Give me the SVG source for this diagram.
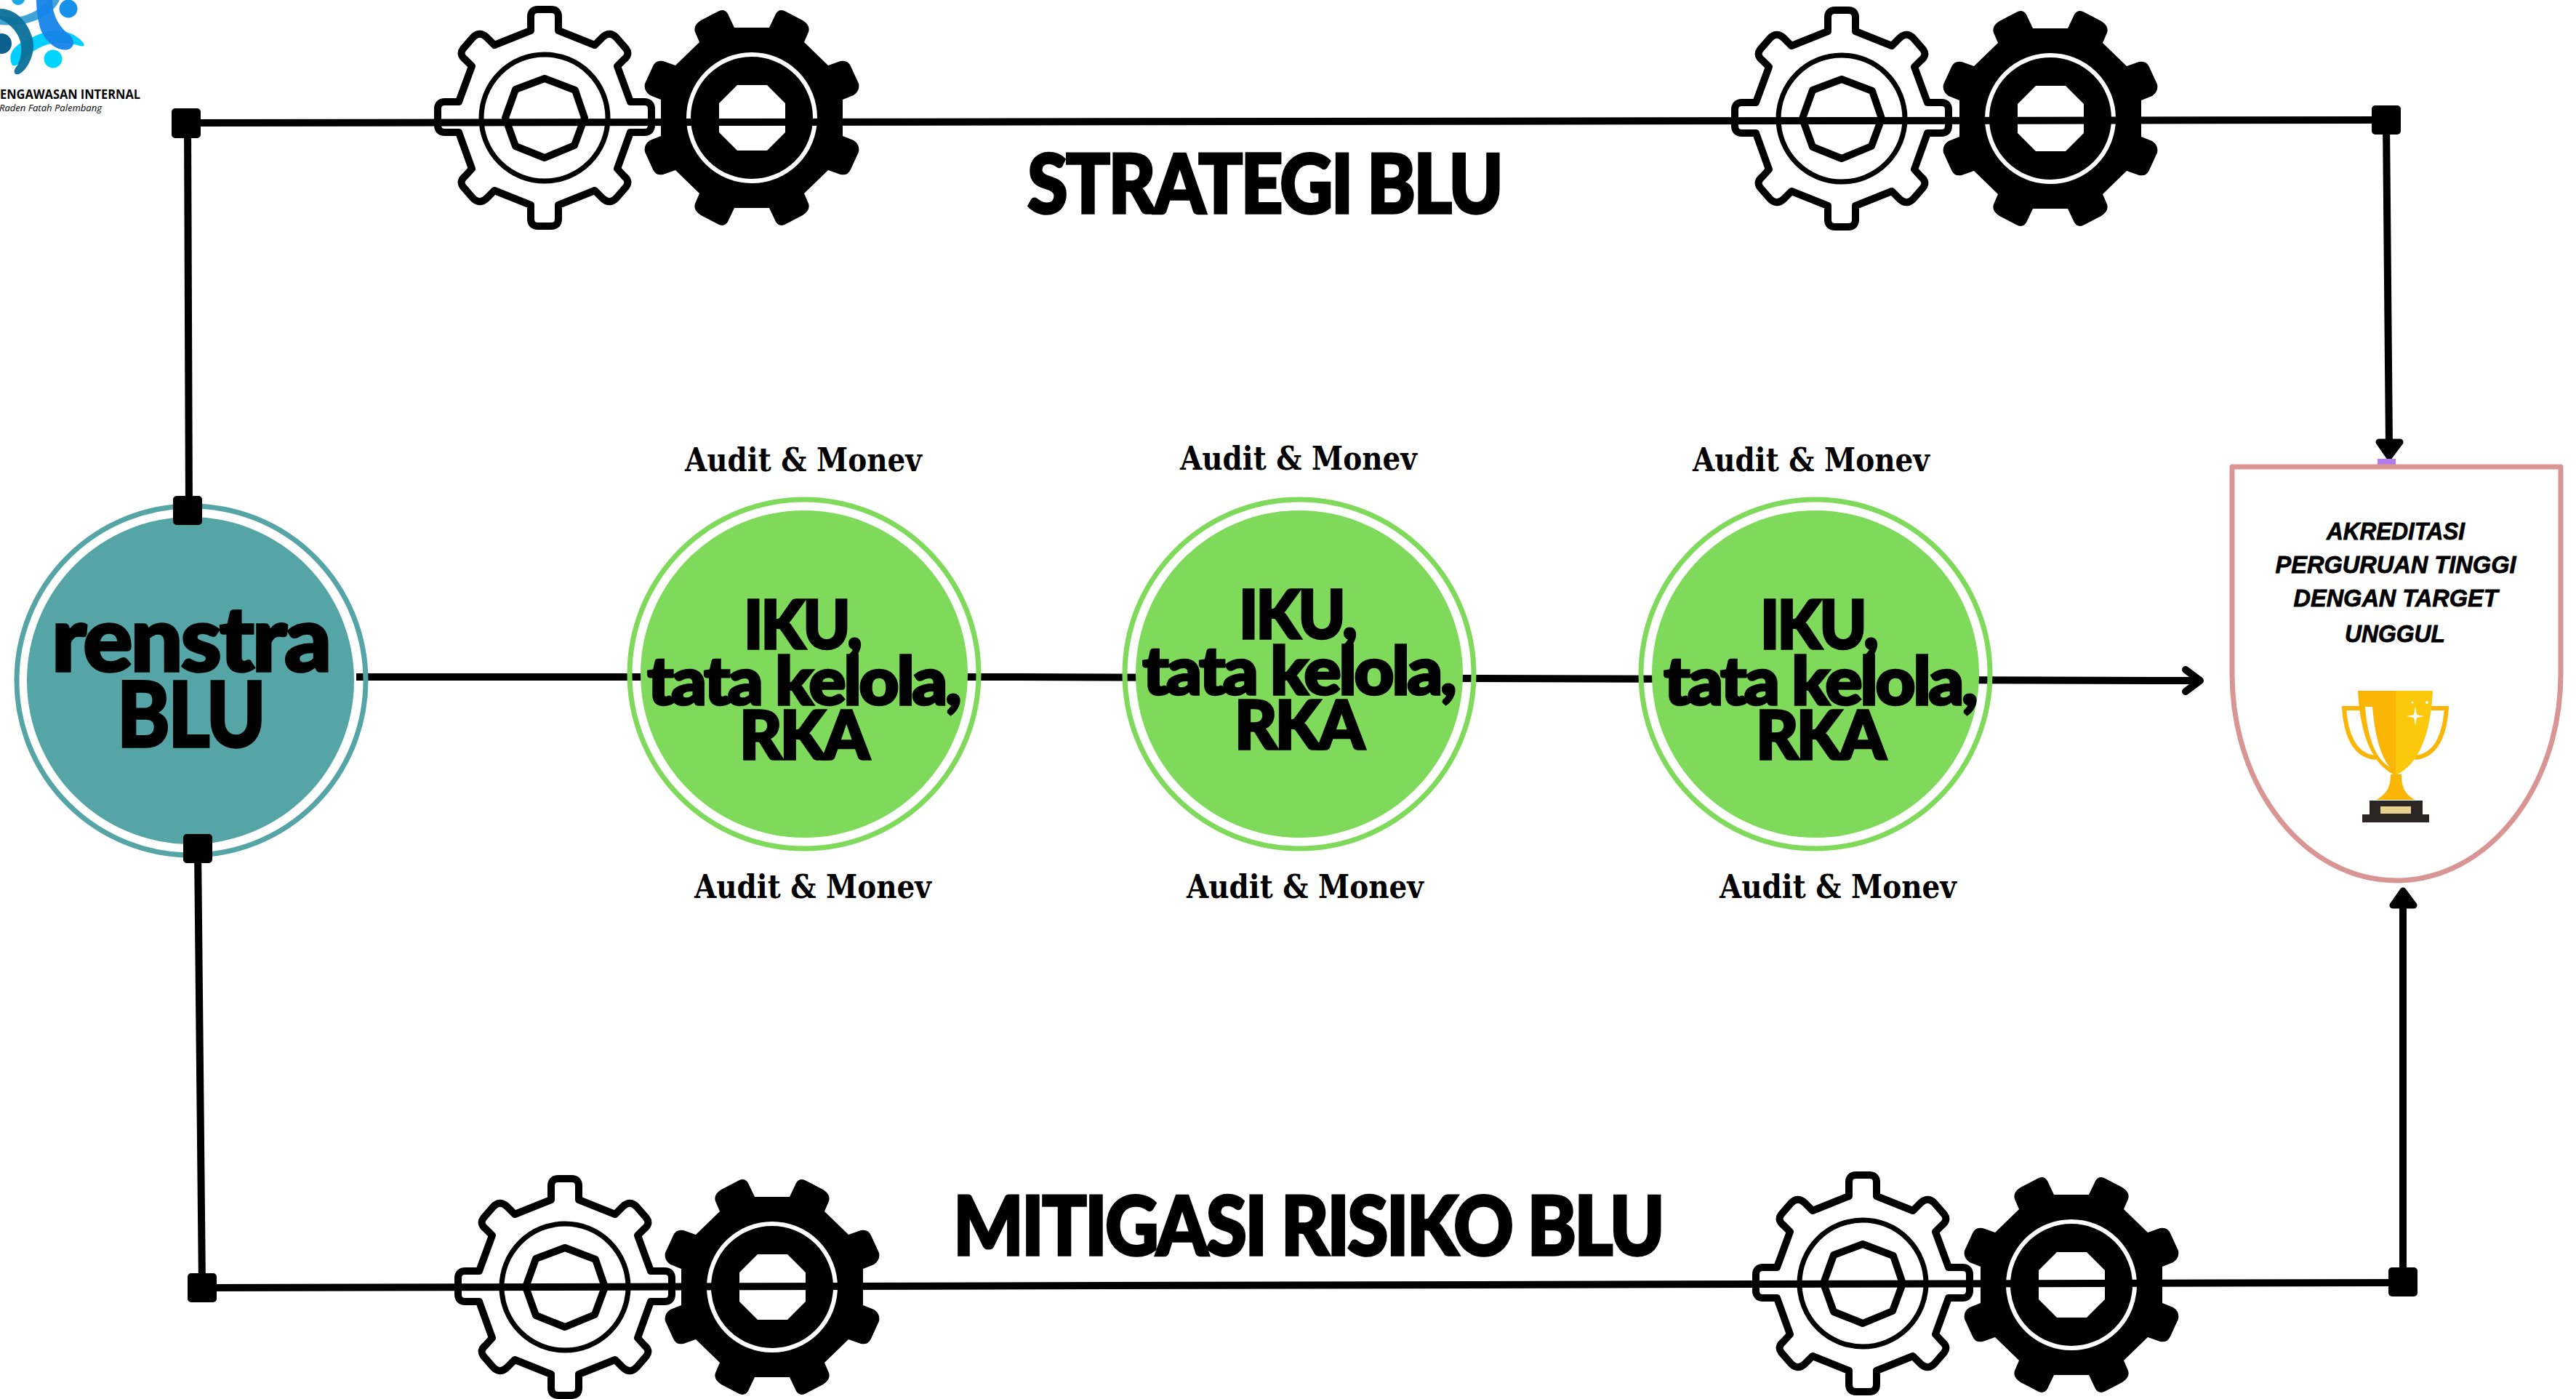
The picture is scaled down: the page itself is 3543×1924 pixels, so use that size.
<svg xmlns="http://www.w3.org/2000/svg" width="3543" height="1924" viewBox="0 0 3543 1924">
<style>
.line{fill:none;stroke:#000;stroke-width:10}
.heavy{font-family:Lato,"Liberation Sans",sans-serif;font-weight:900;fill:#000;stroke:#000;stroke-width:3.5;text-anchor:middle;letter-spacing:-3px}
.audit{font-family:"DejaVu Serif",serif;font-weight:700;font-size:44px;fill:#000}
.goal{font-family:"Liberation Sans",sans-serif;font-weight:700;font-style:italic;font-size:33px;fill:#000;stroke:#000;stroke-width:.8;text-anchor:middle}
</style>
<defs>
<g id="gearW" fill="none" stroke="#000">
<path stroke-width="10" stroke-linejoin="round" d="M-19-120V-139Q-19-149-9-149H9Q19-149 19-139V-120L69-100 80-111Q90-120 99-110L112-95Q118-87 109-80L100-71 118-22H137Q147-22 147-12V10Q147 20 137 20H118L100 70 109 80Q118 87 112 95L99 110Q90 120 80 111L69 100 19 120V139Q19 149 9 149H-9Q-19 149-19 139V120L-69 100-80 111Q-90 120-99 110L-112 95Q-118 87-109 80L-100 70-118 20H-137Q-147 20-147 10V-12Q-147-22-137-22H-118L-100-71-109-80Q-118-87-112-95L-99-110Q-90-120-80-111L-69-100Z"/>
<circle r="87" stroke-width="7"/>
<path stroke-width="10" stroke-linejoin="round" d="M0-54 42-38 55 0 41 38 0 55-40 39-54 0-40-39Z"/>
</g>
<g id="gearB">
<path fill="#000" fill-rule="evenodd" d="M-24-124H24L33-143Q38-151 47-146L70-134Q81-127 78-118L72-104 105-72 122-78Q132-80 136-71L147-47Q149-37 140-31L125-25V25L140 31Q149 37 147 47L136 71Q132 80 122 78L105 72 72 104 78 118Q81 127 70 134L47 146Q38 151 33 143L24 124H-24L-33 143Q-38 151-47 146L-70 134Q-81 127-78 118L-72 104-105 72-122 78Q-132 80-136 71L-147 47Q-149 37-140 31L-125 25V-25L-140-31Q-149-37-147-47L-136-71Q-132-80-122-78L-105-72-72-104-78-118Q-81-127-70-134L-47-146Q-38-151-33-143L-24-124ZM-20-45H21L46-20V20L21 45H-20L-45 20V-20Z"/>
<circle r="87" fill="none" stroke="#fff" stroke-width="6"/>
</g>
</defs>
<rect width="3543" height="1924" fill="#fff"/>

<g id="logo">
<circle cx="94" cy="12" r="12.5" fill="#1591ea"/>
<circle cx="73" cy="81" r="12.5" fill="#00d4ff"/>
<circle cx="2" cy="60" r="14" fill="#0a5f8f"/>
<circle cx="25" cy="-2" r="9" fill="#18a8e8"/>
<path fill="#00cfff" d="M16 88C10 72 22 60 40 54 66 38 94 38 112 56 118 62 116 65 110 63 90 58 70 56 50 68 36 76 30 86 24 89 20 91 17 91 16 88Z"/>
<path fill="#3fa3d8" d="M0 22C24 28 50 20 66 0H82C72 22 40 38 0 34Z"/>
<path fill="#0b6f98" fill-opacity=".95" d="M0 12C30 12 45 45 46 60 47 80 35 98 26 102 18 104 18 96 24 90 34 70 32 42 0 26Z"/>
<path fill="#1583e8" fill-opacity=".95" d="M50 0H72C72 22 82 38 96 48 102 54 104 64 94 68 78 72 58 54 54 34 51 22 50 10 50 0Z"/>
<text x="0" y="136" font-family="'Open Sans',sans-serif" font-weight="700" font-size="17.5" textLength="193" lengthAdjust="spacingAndGlyphs">ENGAWASAN INTERNAL</text>
<text x="-1" y="153" font-family="'Open Sans',sans-serif" font-style="italic" font-size="13.5" textLength="141" lengthAdjust="spacingAndGlyphs">Raden Fatah Palembang</text>
</g>

<g id="gears">
<use href="#gearW" x="749" y="162"/><use href="#gearB" x="1034" y="162"/>
<use href="#gearW" x="2533" y="163"/><use href="#gearB" x="2820" y="163"/>
<use href="#gearW" x="777" y="1770"/><use href="#gearB" x="1062" y="1770"/>
<use href="#gearW" x="2562" y="1765"/><use href="#gearB" x="2849" y="1767"/>
</g>

<g id="connectors">
<path class="line" d="M256 169 3282 165"/>
<path class="line" d="M258 169 260 702"/>
<path class="line" d="M3282 165 3286 612"/>
<path class="line" d="M272 1167 278 1771"/>
<path class="line" d="M278 1771 3305 1764"/>
<path class="line" d="M3305 1764V1240"/>
<path class="line" d="M490 931 1400 931 2960 936 3024 936"/>
<path class="line" stroke-width="12" stroke-linecap="round" stroke-linejoin="round" d="M3006 921 3026 936 3006 951"/>
<path fill="#000" stroke="#000" stroke-width="9" stroke-linejoin="round" d="M3272 608H3301L3286 628Z"/>
<path fill="#000" stroke="#000" stroke-width="9" stroke-linejoin="round" d="M3291 1245H3320L3305 1225Z"/>
</g>

<g id="node-renstra">
<circle cx="263" cy="936" r="240" fill="none" stroke="#55a4a6" stroke-width="7"/>
<circle cx="262" cy="936" r="225" fill="#55a4a6"/>
<text class="heavy" x="262" y="923" font-size="124" textLength="382" lengthAdjust="spacingAndGlyphs">renstra</text>
<text class="heavy" x="262" y="1027" font-size="124" textLength="202" lengthAdjust="spacingAndGlyphs">BLU</text>
</g>

<g id="node-iku-1">
<circle cx="1106" cy="927" r="240" fill="none" stroke="#7fda5b" stroke-width="7"/>
<circle cx="1106" cy="927" r="225" fill="#7fda5b"/>
<text class="heavy" x="1103" y="892" font-size="92" textLength="160" lengthAdjust="spacingAndGlyphs">IKU,</text>
<text class="heavy" x="1105" y="969" font-size="92" textLength="429" lengthAdjust="spacingAndGlyphs">tata kelola,</text>
<text class="heavy" x="1105" y="1044" font-size="92" textLength="176" lengthAdjust="spacingAndGlyphs">RKA</text>
</g>
<g id="node-iku-2">
<circle cx="1787" cy="927" r="240" fill="none" stroke="#7fda5b" stroke-width="7"/>
<circle cx="1787" cy="927" r="225" fill="#7fda5b"/>
<text class="heavy" x="1784" y="878" font-size="92" textLength="160" lengthAdjust="spacingAndGlyphs">IKU,</text>
<text class="heavy" x="1786" y="955" font-size="92" textLength="429" lengthAdjust="spacingAndGlyphs">tata kelola,</text>
<text class="heavy" x="1786" y="1030" font-size="92" textLength="176" lengthAdjust="spacingAndGlyphs">RKA</text>
</g>
<g id="node-iku-3">
<circle cx="2497" cy="927" r="240" fill="none" stroke="#7fda5b" stroke-width="7"/>
<circle cx="2497" cy="927" r="225" fill="#7fda5b"/>
<text class="heavy" x="2501" y="892" font-size="92" textLength="160" lengthAdjust="spacingAndGlyphs">IKU,</text>
<text class="heavy" x="2503" y="969" font-size="92" textLength="429" lengthAdjust="spacingAndGlyphs">tata kelola,</text>
<text class="heavy" x="2503" y="1044" font-size="92" textLength="176" lengthAdjust="spacingAndGlyphs">RKA</text>
</g>

<g id="junctions" fill="#000">
<rect x="236" y="149" width="40" height="41" rx="5"/>
<rect x="3262" y="145" width="40" height="40" rx="5"/>
<rect x="238" y="682" width="40" height="40" rx="5"/>
<rect x="252" y="1147" width="40" height="40" rx="5"/>
<rect x="258" y="1751" width="40" height="40" rx="5"/>
<rect x="3285" y="1743" width="40" height="40" rx="5"/>
</g>

<g id="labels">
<text class="heavy" x="1739" y="293" font-size="112" textLength="652" lengthAdjust="spacingAndGlyphs">STRATEGI BLU</text>
<text class="heavy" x="1799" y="1726" font-size="112" textLength="976" lengthAdjust="spacingAndGlyphs">MITIGASI RISIKO BLU</text>
<text class="audit" x="942" y="648" textLength="326" lengthAdjust="spacingAndGlyphs">Audit &amp; Monev</text>
<text class="audit" x="1623" y="646" textLength="326" lengthAdjust="spacingAndGlyphs">Audit &amp; Monev</text>
<text class="audit" x="2328" y="648" textLength="326" lengthAdjust="spacingAndGlyphs">Audit &amp; Monev</text>
<text class="audit" x="955" y="1235" textLength="326" lengthAdjust="spacingAndGlyphs">Audit &amp; Monev</text>
<text class="audit" x="1632" y="1235" textLength="326" lengthAdjust="spacingAndGlyphs">Audit &amp; Monev</text>
<text class="audit" x="2365" y="1235" textLength="326" lengthAdjust="spacingAndGlyphs">Audit &amp; Monev</text>
</g>

<g id="node-goal">
<rect x="3270" y="631" width="25" height="9" fill="#b57bee"/>
<path fill="#fff" stroke="#d99594" stroke-width="7" stroke-linejoin="round" d="M3070 642H3522V927C3522 1084 3421 1211 3296 1211S3070 1084 3070 927Z"/>
<text class="goal" x="3295" y="742" textLength="190" lengthAdjust="spacingAndGlyphs">AKREDITASI</text>
<text class="goal" x="3295" y="788" textLength="331" lengthAdjust="spacingAndGlyphs">PERGURUAN TINGGI</text>
<text class="goal" x="3295" y="834" textLength="281" lengthAdjust="spacingAndGlyphs">DENGAN TARGET</text>
<text class="goal" x="3294" y="883" textLength="138" lengthAdjust="spacingAndGlyphs">UNGGUL</text>
<g id="trophy">
<path fill="none" stroke="#fbb507" stroke-width="6" d="M3246 974H3224C3227 1015 3240 1040 3268 1042"/>
<path fill="none" stroke="#fbb507" stroke-width="6" d="M3344 974H3365C3362 1015 3349 1040 3321 1042"/>
<path fill="#fbb507" d="M3243 950H3295V1065H3292C3262 1050 3246 1010 3243 950Z"/>
<path fill="#fcc80b" d="M3295 950H3346C3343 1010 3327 1050 3297 1065H3295Z"/>
<path fill="#fff" d="M3253 972H3263C3266 1010 3274 1040 3287 1055 3268 1045 3256 1015 3253 972Z"/>
<path fill="#fbb507" d="M3288 1065H3303C3303 1080 3306 1092 3322 1100H3268C3284 1092 3288 1080 3288 1065Z"/>
<rect x="3259" y="1101" width="73" height="20" fill="#2b2523"/>
<rect x="3249" y="1120" width="92" height="11" fill="#2b2523"/>
<rect x="3274" y="1109" width="42" height="10" fill="#e8d08e"/>
<path fill="#fff" d="M3322 971 3324 983 3334 985 3324 987 3322 998 3320 987 3310 985 3320 983Z"/>
<circle cx="3318" cy="966" r="1.5" fill="#fff"/><circle cx="3338" cy="966" r="2" fill="#fff"/>
</g>
</g>
</svg>
